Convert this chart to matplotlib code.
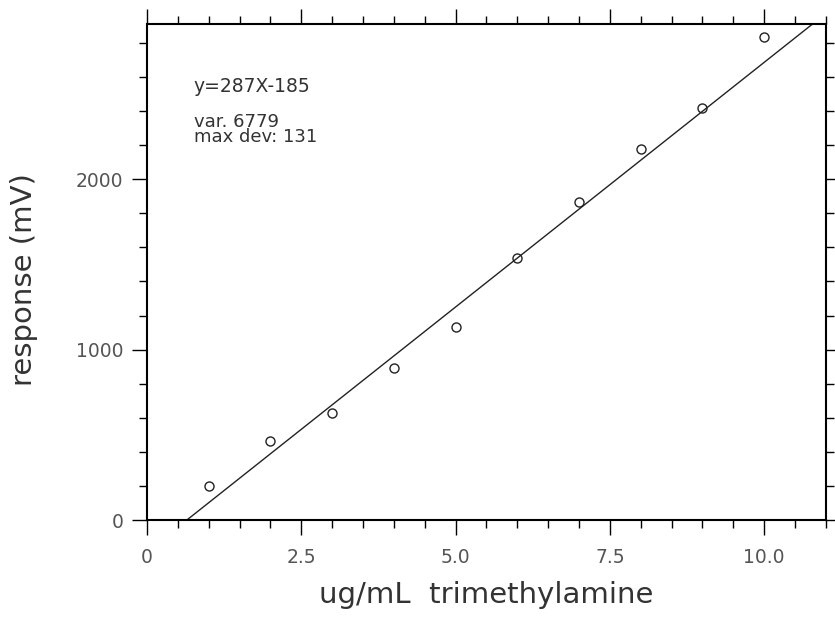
import numpy as np
import matplotlib.pyplot as plt
from matplotlib.ticker import MultipleLocator

# 标准曲线数据
conc = [1, 2, 3, 4, 5, 6, 7, 8, 9, 10]
resp = [200, 465, 630, 894, 1135, 1535, 1865, 2176, 2418, 2835]
slope = 287
intercept = -185
xticks = [0, 2.5, 5.0, 7.5, 10.0]
xticklabels = ['0', '2.5', '5.0', '7.5', '10.0']

plt.rcParams['font.family'] = ['DejaVu Sans']

fig = plt.figure(figsize=(8.35, 6.17), dpi=100)
ax = fig.add_axes([0.176, 0.157, 0.813, 0.804])

# 拟合直线
xl = np.array([0, 11])
ax.plot(xl, slope*xl + intercept, color='#222222', lw=1.0)
ax.plot(conc, resp, 'o', mfc='none', mec='#222222', ms=6.5, mew=1.0)

ax.set_xlim(0, 11)
ax.set_ylim(0, 2910)
ax.xaxis.set_minor_locator(MultipleLocator(0.5))
ax.yaxis.set_major_locator(MultipleLocator(1000))
ax.yaxis.set_minor_locator(MultipleLocator(200))
ax.set_xticks(xticks)
ax.set_xticklabels(xticklabels)

for s in ax.spines.values():
    s.set_linewidth(1.5)
ax.tick_params(which='both', direction='out', top=True, right=True,
               labelcolor='#555555', labelsize=13.5, width=1.0)
ax.tick_params(which='major', length=11)
ax.tick_params(which='minor', length=6)
ax.tick_params(axis='x', which='major', pad=9)
ax.tick_params(axis='y', which='major', pad=6)

ax.text(0.76, 2541, 'y=287X-185', fontsize=13.5, color='#333333', va='center')
ax.text(0.76, 2294, 'var. 6779\nmax dev: 131', fontsize=13, color='#333333',
        va='center', linespacing=0.78)

ax.set_xlabel('ug/mL  trimethylamine', fontsize=21, color='#333333')
ax.set_ylabel('response (mV)', fontsize=21, color='#333333')
ax.xaxis.set_label_coords(0.5, -0.122)
ax.yaxis.set_label_coords(-0.16, 0.484)

fig.savefig('out.png', dpi=100)
